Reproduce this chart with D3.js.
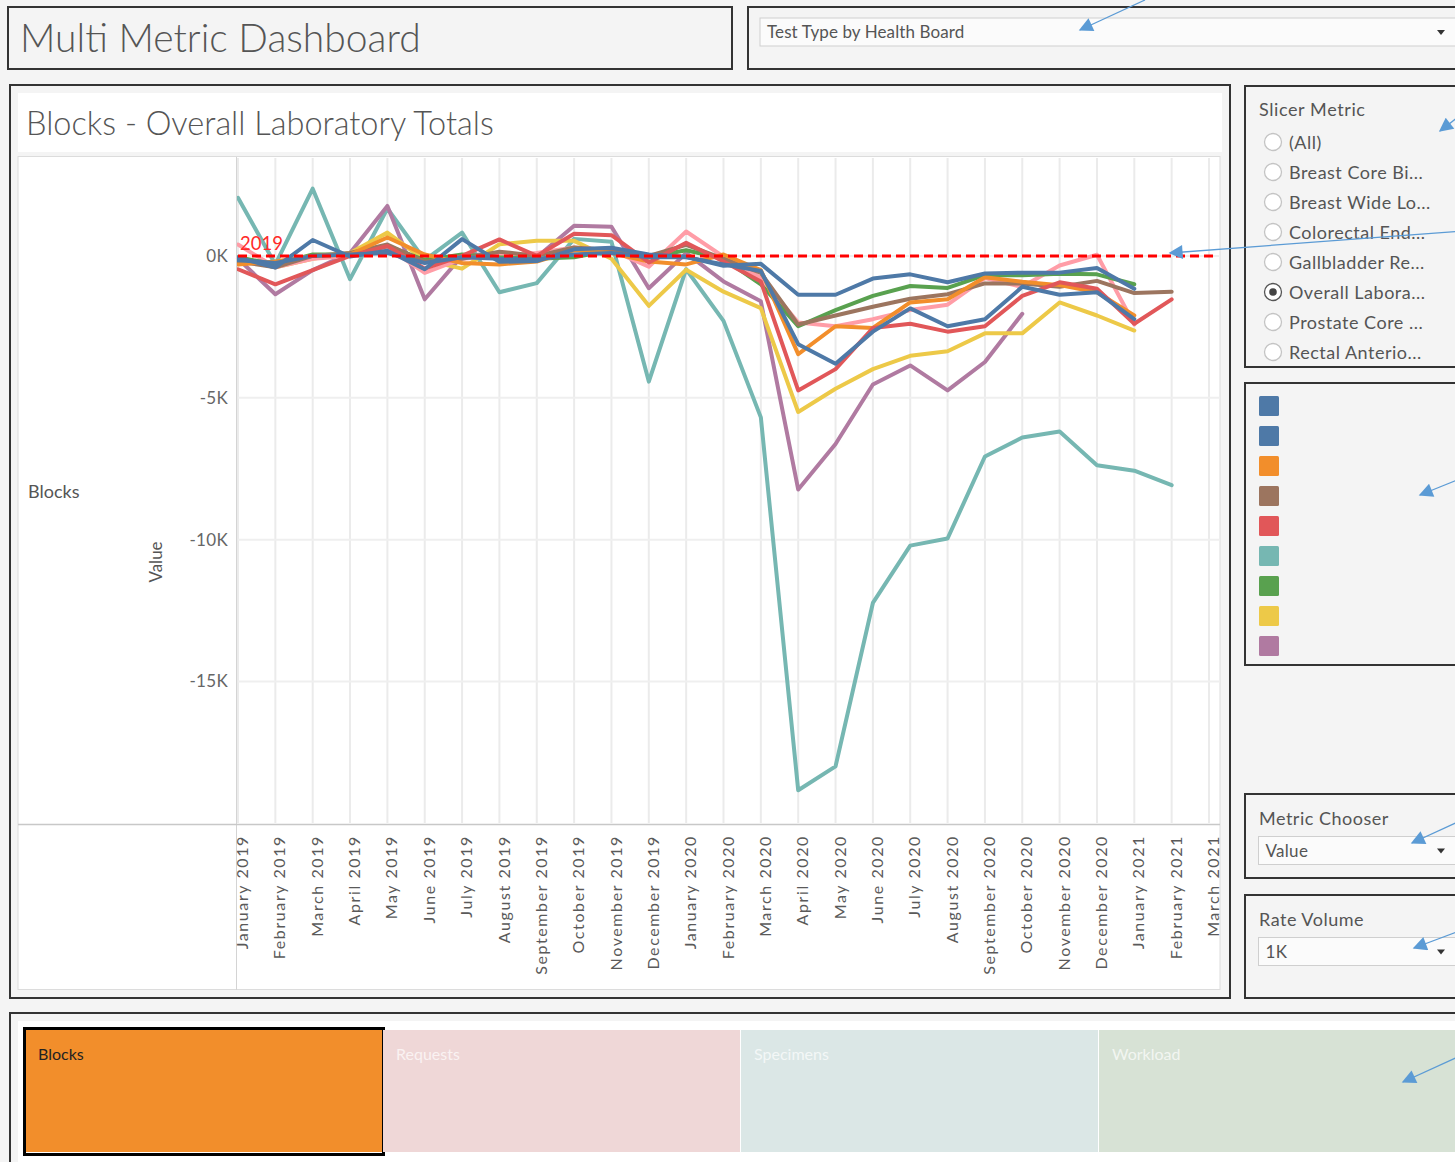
<!DOCTYPE html>
<html>
<head>
<meta charset="utf-8">
<title>Multi Metric Dashboard</title>
<script src="https://cdn.jsdelivr.net/npm/d3@7"></script>
<style>
  html, body { margin: 0; padding: 0; background: #f4f4f4; }
  svg { display: block; font-family: Lato, "Open Sans", sans-serif; }
</style>
</head>
<body>
<svg id="dash" width="1455" height="1162"></svg>
<script>
// ---- data (values in thousands, change vs 2019 baseline) ----
const months = [
  "January 2019", "February 2019", "March 2019", "April 2019", "May 2019", "June 2019",
  "July 2019", "August 2019", "September 2019", "October 2019", "November 2019", "December 2019",
  "January 2020", "February 2020", "March 2020", "April 2020", "May 2020", "June 2020",
  "July 2020", "August 2020", "September 2020", "October 2020", "November 2020", "December 2020",
  "January 2021", "February 2021", "March 2021"
];
const yTicks = [0, -5, -10, -15];

const board1 = [-0.06, -0.41, 0.56, -0.02, 0.18, -0.47, 0.59, -0.21, -0.18, 0.23, 0.29, 0.05, -0.03, -0.35, -0.28, -1.37, -1.37, -0.8, -0.65, -0.93, -0.62, -0.59, -0.59, -0.43, -1.16];
const board2 = [-0.15, -0.25, 0.0, 0.05, 0.1, -0.25, -0.05, -0.1, -0.12, 0.05, 0.1, -0.05, -0.05, -0.3, -0.53, -3.11, -3.8, -2.67, -1.85, -2.48, -2.23, -1.09, -1.37, -1.28, -2.23];
const board3 = [-0.3, -0.2, 0.0, 0.05, 0.65, 0.05, -0.25, -0.3, -0.2, 0.2, 0.1, -0.2, -0.3, 0.05, -0.5, -3.46, -2.48, -2.54, -1.64, -1.53, -0.75, -0.91, -1.03, -1.28, -2.1];
const board4 = [-0.2, -0.4, 0.0, 0.1, 0.4, -0.2, -0.1, 0.15, 0.0, 0.3, 0.2, 0.0, 0.39, -0.1, -0.6, -2.42, -2.1, -1.79, -1.51, -1.35, -0.97, -0.97, -1.09, -0.88, -1.31, -1.26];
const board5 = [-0.47, -1.0, -0.5, 0.0, 0.35, -0.45, 0.0, 0.58, 0.0, 0.78, 0.73, -0.23, 0.46, -0.2, -0.9, -4.74, -3.99, -2.54, -2.39, -2.67, -2.48, -1.41, -0.93, -1.16, -2.39, -1.53];
const board6 = [2.05, -0.3, 2.37, -0.82, 1.67, -0.15, 0.82, -1.28, -0.96, 0.6, 0.5, -4.43, -0.47, -2.29, -5.69, -18.83, -17.99, -12.23, -10.21, -9.96, -7.07, -6.4, -6.19, -7.38, -7.57, -8.08];
const board7 = [-0.05, -0.3, 0.05, 0.05, 0.35, -0.15, 0.05, -0.05, -0.1, -0.05, 0.2, -0.05, 0.2, -0.1, -1.0, -2.48, -1.91, -1.41, -1.06, -1.13, -0.68, -0.68, -0.63, -0.65, -1.0];
const board8 = [-0.1, -0.4, -0.1, 0.1, 0.82, -0.15, -0.45, 0.41, 0.53, 0.53, -0.1, -1.76, -0.49, -1.26, -1.84, -5.5, -4.68, -3.99, -3.52, -3.36, -2.73, -2.73, -1.64, -2.1, -2.63];
const board9 = [-0.1, -1.35, -0.5, 0.1, 1.76, -1.53, 0.0, 0.1, -0.05, 1.06, 1.03, -1.14, 0.1, -0.9, -1.6, -8.23, -6.63, -4.53, -3.86, -4.74, -3.74, -2.04];
const board10 = [0.4, -0.4, -0.1, 0.0, 0.3, -0.6, -0.1, 0.0, 0.1, 0.3, 0.2, -0.38, 0.86, -0.03, -0.77, -2.35, -2.48, -2.23, -1.91, -1.72, -0.78, -1.09, -0.34, 0.04, -2.42];

const seriesValues = [board1, board2, board3, board4, board5, board6, board7, board8, board9, board10];
const seriesColors = ["#4e79a7", "#4e79a7", "#f28e2b", "#9c755f", "#e15759", "#76b7b2", "#59a14f", "#edc948", "#b07aa1", "#ff9da7"];
const drawOrder = [5, 8, 7, 9, 6, 3, 2, 4, 1, 0];
const baselineLabel = "2019";

const slicerItems = ["(All)", "Breast Core Bi...", "Breast Wide Lo...", "Colorectal End...", "Gallbladder Re...", "Overall Labora...", "Prostate Core ...", "Rectal Anterio..."];
const slicerSelected = "Overall Labora...";

const tileNames = ["Blocks", "Requests", "Specimens", "Workload"];
const tileColors = ["#f28e2b", "#efd7d7", "#dbe7e6", "#d7e2d5"];
const tileSelected = "Blocks";

// ---- drawing ----
const svg = d3.select("#dash");
const ink = "#555";

svg.append("rect").attr("width", 1455).attr("height", 1162).attr("fill", "#f4f4f4");

const defs = svg.append("defs");
defs.append("marker")
  .attr("id", "arrowhead")
  .attr("viewBox", "0 0 10 10")
  .attr("refX", 9).attr("refY", 5)
  .attr("markerUnits", "userSpaceOnUse")
  .attr("markerWidth", 18).attr("markerHeight", 14)
  .attr("orient", "auto")
  .append("path").attr("d", "M0,0 L10,5 L0,10 z").attr("fill", "#5b9bd5");
defs.append("clipPath").attr("id", "slicerClip")
  .append("rect").attr("x", 1246).attr("y", 87).attr("width", 220).attr("height", 275);

const box = (x, y, w, h) => svg.append("rect")
  .attr("x", x).attr("y", y).attr("width", w).attr("height", h)
  .attr("fill", "none").attr("stroke", "#333").attr("stroke-width", 2);

const label = (x, y, size, txt, spacing) => svg.append("text")
  .attr("x", x).attr("y", y)
  .attr("font-size", size).attr("letter-spacing", spacing || 0)
  .attr("fill", ink).text(txt);

const dropdown = (x, y, w, h, txt, size, spacing) => {
  svg.append("rect").attr("x", x).attr("y", y).attr("width", w).attr("height", h)
    .attr("fill", "#fbfbfb").attr("stroke", "#cfcfcf");
  label(x + 7, y + h / 2 + 6, size, txt, spacing);
  svg.append("path")
    .attr("d", `M1437,${y + h / 2 - 2} l8,0 l-4,5 z`).attr("fill", "#333");
};

// header
box(8, 7, 724, 62);
label(20, 52, 39, "Multi Metric Dashboard").attr("font-weight", 300);
box(748, 7, 720, 62);
dropdown(760, 18, 700, 28, "Test Type by Health Board", 17, 0.1);

// chart panel
box(10, 85, 1220, 913);
svg.append("rect").attr("x", 18).attr("y", 93).attr("width", 1204).attr("height", 59).attr("fill", "#fff");
label(26, 135, 32.5, "Blocks - Overall Laboratory Totals").attr("font-weight", 300);
svg.append("rect").attr("x", 18).attr("y", 156.5).attr("width", 1202).attr("height", 833)
  .attr("fill", "#fff").attr("stroke", "#dcdcdc");

const x = d3.scalePoint().domain(months).range([238, 1209]);
const y = d3.scaleLinear().domain([-19.95, 3.45]).range([822, 158]);

const plot = svg.append("g");

// gridlines
plot.selectAll(".vgrid").data(months).join("line")
  .attr("x1", d => x(d)).attr("x2", d => x(d))
  .attr("y1", 158).attr("y2", 823)
  .attr("stroke", "#ebebeb").attr("stroke-width", 2);
plot.selectAll(".hgrid").data(yTicks).join("line")
  .attr("x1", 238).attr("x2", 1220)
  .attr("y1", d => y(d)).attr("y2", d => y(d))
  .attr("stroke", "#efefef").attr("stroke-width", 2);

// pane dividers
svg.append("line").attr("x1", 236.5).attr("x2", 236.5).attr("y1", 157).attr("y2", 990).attr("stroke", "#d4d4d4");
svg.append("line").attr("x1", 18).attr("x2", 1220).attr("y1", 824.5).attr("y2", 824.5).attr("stroke", "#c8c8c8").attr("stroke-width", 1.5);

// y axis
const yAxis = svg.append("g").attr("transform", "translate(236,0)")
  .call(d3.axisLeft(y).tickValues(yTicks).tickSize(0).tickPadding(8).tickFormat(d => `${d}K`));
yAxis.select(".domain").remove();
yAxis.selectAll("text")
  .style("font-family", "Lato, sans-serif").style("font-size", "17px")
  .attr("letter-spacing", 0.3).attr("fill", "#666");

// x axis
const xAxis = svg.append("g").attr("transform", "translate(0,824)")
  .call(d3.axisBottom(x).tickSize(0));
xAxis.select(".domain").remove();
xAxis.selectAll("text")
  .attr("transform", "rotate(-90)")
  .attr("x", -11).attr("y", 4).attr("dy", "0.35em")
  .style("text-anchor", "end")
  .style("font-family", "Lato, sans-serif")
  .style("font-size", "16px")
  .style("letter-spacing", "1.6px")
  .attr("fill", "#5a5a5a");

// header labels
label(28, 498, 18, "Blocks");
svg.append("text").attr("transform", "translate(162,562) rotate(-90)")
  .attr("text-anchor", "middle").attr("font-size", 17).attr("fill", ink).text("Value");

// lines
const line = d3.line()
  .x((d, i) => x(months[i]))
  .y(d => y(d));
plot.selectAll(".series").data(drawOrder).join("path")
  .attr("d", k => line(seriesValues[k]))
  .attr("fill", "none")
  .attr("stroke", k => seriesColors[k])
  .attr("stroke-width", 4)
  .attr("stroke-linejoin", "round")
  .attr("stroke-linecap", "round");

// reference line
plot.append("line")
  .attr("x1", 238).attr("x2", 1218).attr("y1", y(0)).attr("y2", y(0))
  .attr("stroke", "#ff0000").attr("stroke-width", 3).attr("stroke-dasharray", "9,5");
plot.append("text").attr("x", 240).attr("y", y(0) - 6)
  .attr("font-size", 18.5).attr("fill", "#ff2a2a").text(baselineLabel);

// slicer
box(1245, 86, 230, 281);
label(1259, 116, 18, "Slicer Metric", 0.6);
const slicer = svg.append("g").attr("clip-path", "url(#slicerClip)")
  .selectAll("g").data(slicerItems).join("g")
  .attr("transform", (d, i) => `translate(1273,${142 + 30 * i})`);
slicer.append("circle").attr("r", 8.5)
  .attr("fill", "#fff")
  .attr("stroke", d => d === slicerSelected ? "#555" : "#c4c4c4")
  .attr("stroke-width", 1.3);
slicer.filter(d => d === slicerSelected).append("circle").attr("r", 3.8).attr("fill", "#444");
slicer.append("text").attr("x", 16).attr("y", 6.5)
  .attr("font-size", 18).attr("letter-spacing", 0.5).attr("fill", ink).text(d => d);

// colour legend
box(1245, 383, 230, 282);
svg.append("g").selectAll("rect").data(seriesColors.slice(0, 9)).join("rect")
  .attr("x", 1259).attr("y", (d, i) => 396 + 30 * i)
  .attr("width", 20).attr("height", 20).attr("rx", 1.5)
  .attr("fill", d => d);

// metric chooser / rate volume
box(1245, 794, 230, 84);
label(1259, 825, 18, "Metric Chooser", 0.5);
dropdown(1258.5, 836.5, 210, 28, "Value", 17, 0.3);
box(1245, 895, 230, 103);
label(1259, 926, 18, "Rate Volume", 0.5);
dropdown(1258.5, 937.5, 210, 28, "1K", 17, 0.3);

// bottom tiles
box(10, 1013, 1460, 160);
svg.append("rect").attr("x", 18).attr("y", 1021).attr("width", 1440).attr("height", 141).attr("fill", "#fff");
const tx = d3.scaleBand().domain(tileNames).range([24, 1456]);
const tiles = svg.append("g").selectAll("g").data(tileNames).join("g");
tiles.append("rect")
  .attr("x", d => tx(d) + 1).attr("y", 1030)
  .attr("width", tx.bandwidth() - 1).attr("height", 122)
  .attr("fill", (d, i) => tileColors[i]);
tiles.filter(d => d === tileSelected).append("rect")
  .attr("x", d => tx(d) + 0.5).attr("y", 1028.5)
  .attr("width", tx.bandwidth() + 1).attr("height", 126)
  .attr("fill", "none").attr("stroke", "#000").attr("stroke-width", 3);
tiles.append("text")
  .attr("x", d => tx(d) + 14).attr("y", 1060)
  .attr("font-size", 16)
  .attr("fill", d => d === tileSelected ? "#222" : "#fff")
  .attr("fill-opacity", d => d === tileSelected ? 1 : 0.7)
  .text(d => d);

// callout arrows
const callouts = [
  [1145, 0, 1080, 30], [1462, 114, 1440, 131], [1462, 231, 1170, 253],
  [1462, 478, 1420, 495], [1462, 820, 1412, 843], [1462, 930, 1414, 948], [1462, 1055, 1403, 1082]
];
svg.append("g").selectAll("line").data(callouts).join("line")
  .attr("x1", d => d[0]).attr("y1", d => d[1])
  .attr("x2", d => d[2]).attr("y2", d => d[3])
  .attr("stroke", "#5b9bd5").attr("stroke-width", 1.3)
  .attr("marker-end", "url(#arrowhead)");
</script>
</body>
</html>
